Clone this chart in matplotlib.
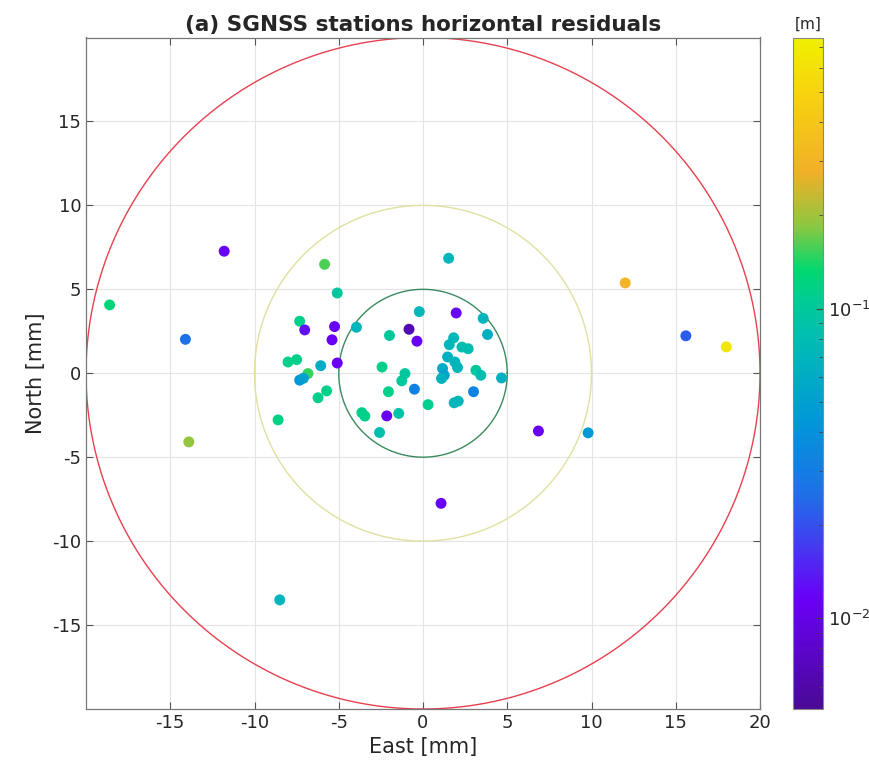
import matplotlib
matplotlib.use("Agg")
import matplotlib.pyplot as plt
import numpy as np
from matplotlib.colors import LinearSegmentedColormap, LogNorm

plt.rcParams["axes.unicode_minus"] = False

# ---- data (mm for positions, m for residual magnitude) ----
east = [-18.6, -11.8, -14.1, -13.9, -8.5, 12.0, 15.6, 18.0, 6.85, 9.8, 1.07, -8.6,
        -5.84, 1.52, -5.09, -7.32, -7.02, -5.25, -5.40, -3.95, -0.22, 1.97, 3.57, 3.83,
        -0.83, -0.36, -1.99, 1.82, 1.56, 2.31, 2.68, 1.46, 1.89, 2.05, 1.16, 1.26, 1.10,
        3.14, 3.43, 4.66, 3.0, 1.85, 2.09, 0.30, -0.51, -1.07, -1.26, -2.43, -2.05, -1.44,
        -2.15, -3.63, -3.45, -2.58, -5.09, -6.07, -8.01, -7.50, -6.83, -7.32, -7.1, -5.72,
        -6.23]
north = [4.07, 7.27, 2.02, -4.09, -13.5, 5.38, 2.23, 1.57, -3.44, -3.55, -7.75, -2.78,
         6.49, 6.85, 4.78, 3.10, 2.58, 2.78, 1.99, 2.74, 3.67, 3.59, 3.27, 2.31,
         2.62, 1.91, 2.25, 2.11, 1.70, 1.56, 1.46, 0.97, 0.67, 0.34, 0.28, -0.12, -0.31,
         0.18, -0.12, -0.28, -1.1, -1.76, -1.66, -1.87, -0.95, -0.02, -0.45, 0.37, -1.10, -2.39,
         -2.54, -2.35, -2.55, -3.53, 0.61, 0.45, 0.67, 0.81, -0.02, -0.41, -0.3, -1.05,
         -1.46]
resid = [0.125, 0.012, 0.026, 0.19, 0.07, 0.30, 0.022, 0.65, 0.0115, 0.045, 0.0115, 0.12,
         0.16, 0.072, 0.095, 0.115, 0.013, 0.0115, 0.0115, 0.07, 0.075, 0.0115, 0.07, 0.065,
         0.0065, 0.0115, 0.1, 0.075, 0.072, 0.08, 0.08, 0.065, 0.07, 0.072, 0.06, 0.05, 0.068,
         0.1, 0.08, 0.065, 0.032, 0.072, 0.072, 0.11, 0.032, 0.095, 0.1, 0.115, 0.115, 0.09,
         0.0115, 0.115, 0.115, 0.085, 0.0115, 0.06, 0.115, 0.115, 0.15, 0.042, 0.05, 0.115,
         0.115]
circle_radii = [5, 10, 20]
circle_colors = ["#3a8a5e", "#e0e0a0", "#e8404f"]
x_ticks = [-15, -10, -5, 0, 5, 10, 15, 20]
y_ticks = [-15, -10, -5, 0, 5, 10, 15]
cmin, cmax = 0.0051, 0.75

cmap = LinearSegmentedColormap.from_list("parula_like", [
    (0.00, "#4a0a96"),
    (0.164, "#6a00f8"),
    (0.25, "#4040f0"),
    (0.32, "#1e70e8"),
    (0.43, "#0098d8"),
    (0.55, "#00bcb4"),
    (0.61, "#00cc94"),
    (0.654, "#00d870"),
    (0.72, "#8cc840"),
    (0.80, "#f0b028"),
    (0.91, "#f8d010"),
    (1.00, "#f0f000"),
])

fig = plt.figure(figsize=(8.69, 7.71), dpi=100)
ax = fig.add_axes([86/869, 1-709/771, 674/869, 671.5/771])
cax = fig.add_axes([793/869, 1-709/771, 30/869, 671.5/771])

t = np.linspace(0, 2*np.pi, 720)
for r, c in zip(circle_radii, circle_colors):
    ax.plot(r*np.cos(t), r*np.sin(t), color=c, lw=1.0, zorder=2)

sc = ax.scatter(east, north, c=resid, cmap=cmap, norm=LogNorm(cmin, cmax),
                s=62, edgecolors="none", zorder=3)

ax.set_xlim(-20, 20)
ax.set_ylim(-20, 20)
ax.set_xticks(x_ticks)
ax.set_yticks(y_ticks)
ax.grid(True, color="#e4e4e4", lw=0.8)
ax.set_axisbelow(True)
ax.tick_params(direction="in", length=5, top=True, right=True, labelsize=13,
               color="#555555", labelcolor="#262626")
for s in ax.spines.values():
    s.set_color("#777777")
    s.set_linewidth(0.9)
ax.set_xlabel("East [mm]", fontsize=15, color="#262626", labelpad=4)
ax.set_ylabel("North [mm]", fontsize=15, color="#262626", labelpad=4)
ax.set_title("(a) SGNSS stations horizontal residuals", fontsize=15.5,
             fontweight="bold", color="#262626", pad=5)

cb = fig.colorbar(sc, cax=cax)
cb.outline.set_edgecolor("#888888")
cax.tick_params(which="both", direction="in", labelsize=13, color="#444444",
                labelcolor="#262626")
cax.tick_params(which="major", length=5)
cax.tick_params(which="minor", length=3)
cax.set_title("[m]", fontsize=11, color="#262626", pad=6)

fig.savefig("out.png", dpi=100)
